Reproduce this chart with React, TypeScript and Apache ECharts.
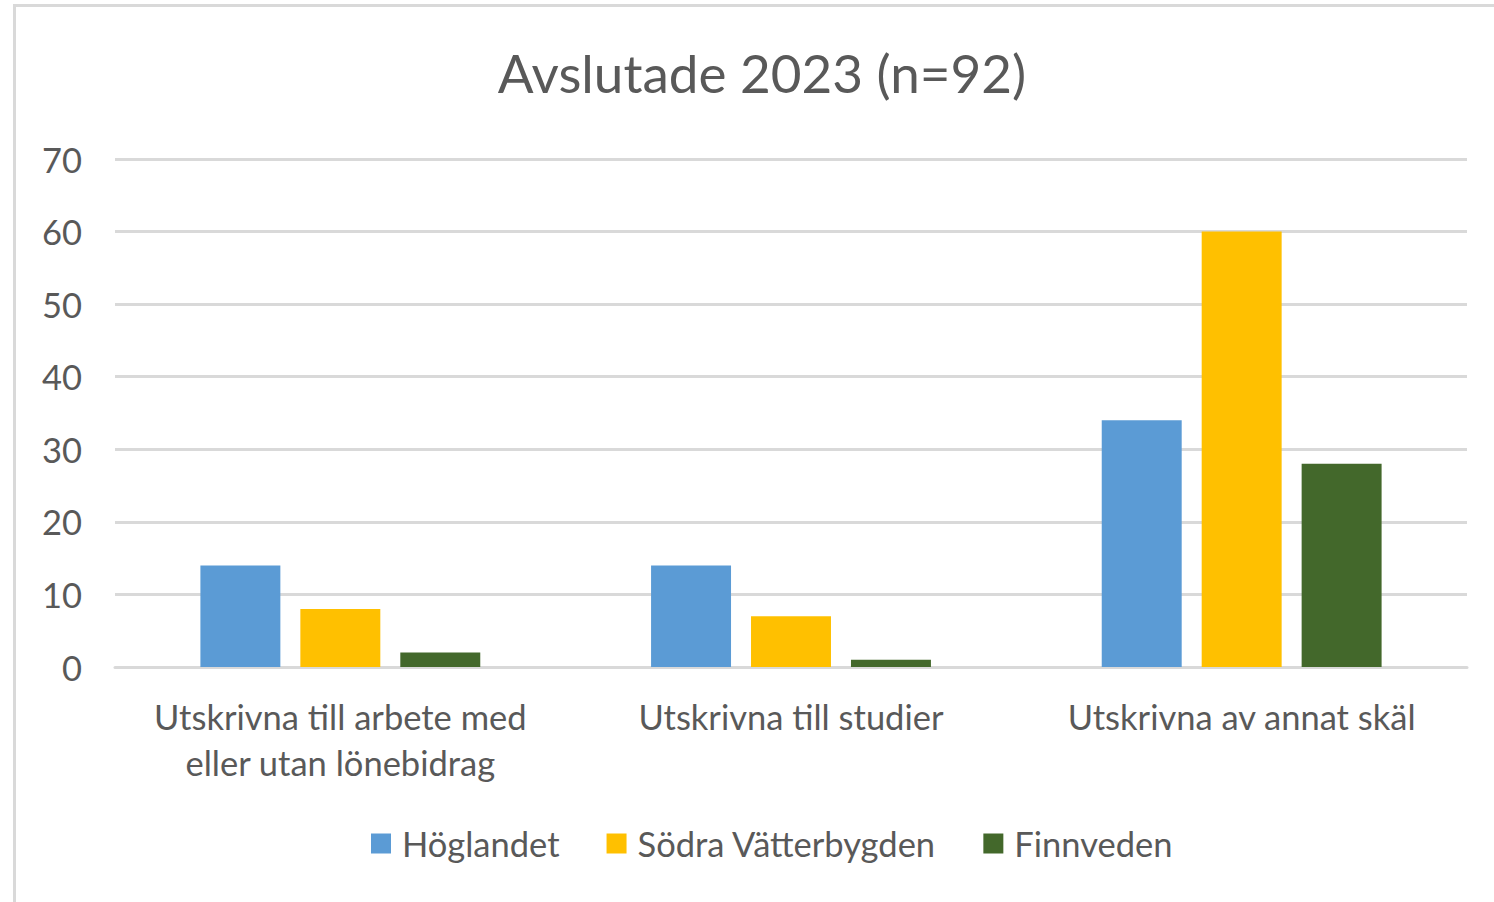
import React, { useEffect, useRef } from "react";
import * as echarts from "echarts";

const categories = [
  "Utskrivna till arbete med\neller utan lönebidrag",
  "Utskrivna till studier",
  "Utskrivna av annat skäl",
];
const seriesNames = ["Höglandet", "Södra Vätterbygden", "Finnveden"];
const hoglandet = [14, 14, 34];
const sodraVatterbygden = [8, 7, 60];
const finnveden = [2, 1, 28];
const colors = ["#5B9BD5", "#FFC000", "#43682B"];
const titleText = "Avslutade 2023 (n=92)";

export default function App() {
  const ref = useRef<HTMLDivElement>(null);
  useEffect(() => {
    if (!ref.current) return;
    const chart = echarts.init(ref.current, null, { renderer: "svg" });
    const font = "Lato, 'Open Sans', sans-serif";
    const values = [hoglandet, sodraVatterbygden, finnveden];
    chart.setOption({
      animation: false,
      backgroundColor: "#ffffff",
      textStyle: { fontFamily: font },
      title: {
        text: titleText,
        left: 762,
        textAlign: "center",
        top: 46,
        padding: 0,
        textStyle: { fontFamily: font, fontSize: 53, fontWeight: "normal", color: "#595959" },
      },
      graphic: [
        {
          type: "rect",
          shape: { x: 14.5, y: 5.5, width: 2000, height: 2000 },
          style: { fill: "none", stroke: "#D9D9D9", lineWidth: 3 },
          silent: true,
        },
      ],
      legend: {
        data: seriesNames,
        left: 366,
        top: 821,
        itemWidth: 20,
        itemHeight: 20,
        itemGap: 47,
        icon: "rect",
        textStyle: { fontFamily: font, fontSize: 34.5, color: "#595959", padding: [0, 0, 0, 6] },
      },
      grid: { left: 115, right: 27, top: 159, bottom: 235, containLabel: false },
      xAxis: {
        type: "category",
        data: categories,
        axisLine: { show: true, lineStyle: { color: "#D9D9D9", width: 3 } },
        axisTick: { show: false },
        axisLabel: {
          fontFamily: font,
          fontSize: 34.5,
          color: "#595959",
          lineHeight: 46,
          margin: 26,
          interval: 0,
        },
      },
      yAxis: {
        type: "value",
        min: 0,
        max: 70,
        interval: 10,
        axisLine: { show: false },
        axisTick: { show: false },
        splitLine: { lineStyle: { color: "#D9D9D9", width: 3 } },
        axisLabel: { fontFamily: font, fontSize: 34.5, color: "#595959", margin: 33 },
      },
      series: seriesNames.map((name, i) => ({
        name,
        type: "bar",
        data: values[i],
        itemStyle: { color: colors[i] },
        barGap: "25%",
        barCategoryGap: "37.9%",
      })),
    });
    return () => chart.dispose();
  }, []);
  return (
    <div
      ref={ref}
      style={{ position: "fixed", left: 0, top: 0, width: 1494, height: 902, background: "#fff" }}
    />
  );
}
